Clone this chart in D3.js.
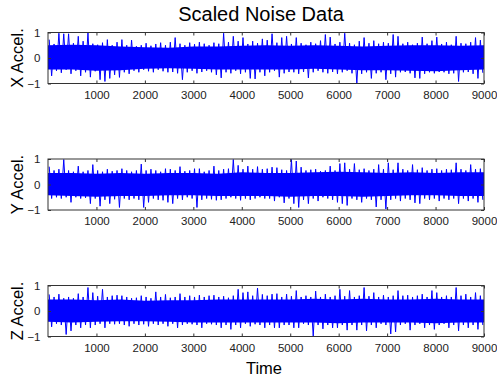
<!DOCTYPE html>
<html>
<head>
<meta charset="utf-8">
<script src="https://cdn.jsdelivr.net/npm/d3@7"></script>
<style>
body{margin:0;background:#fff;}
svg{display:block;font-family:"Liberation Sans",Arial,sans-serif;}
</style>
</head>
<body>
<div id="chart"></div>
<script>
// Scaled noise data, read off the picture as per-window extremes
// (one value per 100 samples) plus the dense core band (every 500 samples)

const windowSize = 100;
const xTicks = [1000, 2000, 3000, 4000, 5000, 6000, 7000, 8000, 9000];
const yTicks = [-1, 0, 1];
const panelLabels = ['X Accel.', 'Y Accel.', 'Z Accel.'];
const coreTimes = [0, 500, 1000, 1500, 2000, 2500, 3000, 3500, 4000, 4500, 5000, 5500, 6000, 6500, 7000, 7500, 8000, 8500, 9000];

// X
const xHigh = [0.72,0.55,0.97,0.95,0.95,0.58,0.85,0.66,0.98,0.56,0.52,0.6,0.72,0.5,0.62,0.72,0.5,0.7,0.46,0.5,0.58,0.48,0.55,0.6,0.5,0.62,0.8,0.56,0.5,0.6,0.54,0.62,0.56,0.5,0.6,0.56,0.97,0.62,0.85,0.66,0.8,0.55,0.66,0.58,0.75,
    0.7,0.95,0.6,0.8,0.85,0.55,0.8,0.58,0.52,0.62,0.56,0.68,0.92,0.82,0.55,0.62,0.97,0.58,0.52,0.66,0.8,0.58,0.68,0.56,0.62,0.58,0.92,0.85,0.56,0.62,0.52,0.58,0.82,0.56,0.68,0.82,0.55,0.62,0.52,0.85,0.58,0.56,0.62,0.8,0.7];
const xLow = [-0.7,-0.5,-0.58,-0.46,-0.62,-0.5,-0.7,-0.56,-0.75,-0.52,-0.85,-0.92,-0.8,-0.66,-0.76,-0.56,-0.62,-0.5,-0.56,-0.46,-0.52,-0.56,-0.46,-0.52,-0.56,-0.55,-0.6,-0.85,-0.56,-0.5,-0.6,-0.55,-0.5,-0.56,-0.66,-0.78,-0.56,-0.6,-0.5,-0.62,-0.56,-0.8,-0.82,-0.56,-0.7,
    -0.56,-0.5,-0.75,-0.6,-0.55,-0.56,-0.62,-0.55,-0.78,-0.56,-0.5,-0.56,-0.6,-0.55,-0.62,-0.56,-0.5,-0.6,-1.0,-0.62,-0.56,-0.8,-0.6,-0.56,-0.85,-0.62,-0.75,-0.56,-0.55,-0.6,-0.78,-0.8,-0.62,-0.56,-0.6,-0.55,-0.56,-0.62,-0.6,-0.92,-0.56,-0.55,-0.62,-0.8,-0.58];
const xCoreHigh = [0.5,0.52,0.5,0.45,0.42,0.4,0.45,0.45,0.48,0.5,0.48,0.5,0.48,0.45,0.48,0.5,0.5,0.48,0.5];
const xCoreLow = [-0.45,-0.45,-0.5,-0.48,-0.42,-0.4,-0.42,-0.45,-0.45,-0.45,-0.45,-0.42,-0.45,-0.48,-0.48,-0.5,-0.52,-0.48,-0.45];

// Y
const yHigh = [0.7,0.55,0.6,0.98,0.55,0.5,0.72,0.5,0.55,0.78,0.55,0.5,0.6,0.52,0.55,0.62,0.55,0.5,0.55,0.8,0.55,0.6,0.55,0.5,0.62,0.6,0.55,0.7,0.52,0.55,0.62,0.62,0.5,0.55,0.72,0.55,0.6,0.62,0.98,0.75,0.6,0.72,0.6,0.7,0.6,
    0.62,0.68,0.66,0.58,0.55,0.98,0.92,0.68,0.55,0.58,0.6,0.52,0.55,0.72,0.55,0.82,0.85,0.6,0.82,0.58,0.62,0.55,0.6,0.78,0.6,0.85,0.58,0.85,0.6,0.55,0.78,0.58,0.66,0.55,0.6,0.62,0.55,0.6,0.58,0.85,0.6,0.55,0.78,0.6,0.62];
const yLow = [-0.55,-0.5,-0.55,-0.5,-0.7,-0.5,-0.55,-0.52,-0.75,-0.55,-0.85,-0.6,-0.75,-0.58,-0.9,-0.55,-0.6,-0.55,-0.6,-0.9,-0.7,-0.55,-0.6,-0.62,-0.7,-0.75,-0.55,-0.6,-0.5,-0.55,-0.9,-0.6,-0.55,-0.58,-0.62,-0.6,-0.55,-0.5,-0.55,-0.62,-0.55,-0.6,-0.55,-0.5,-0.55,
    -0.55,-0.65,-0.5,-0.72,-0.55,-0.75,-0.9,-0.6,-0.75,-0.55,-0.65,-0.5,-0.55,-0.6,-0.7,-0.75,-0.82,-0.55,-0.6,-0.7,-0.55,-0.6,-0.88,-0.6,-0.96,-0.6,-0.55,-0.65,-0.55,-0.6,-0.72,-0.75,-0.55,-0.6,-0.55,-0.65,-0.55,-0.6,-0.55,-0.75,-0.55,-0.65,-0.55,-0.7,-0.6];
const yCoreHigh = [0.45,0.45,0.42,0.45,0.42,0.45,0.45,0.42,0.48,0.45,0.45,0.48,0.5,0.48,0.45,0.48,0.45,0.48,0.48];
const yCoreLow = [-0.42,-0.45,-0.48,-0.45,-0.45,-0.42,-0.42,-0.45,-0.45,-0.45,-0.48,-0.45,-0.45,-0.48,-0.45,-0.42,-0.42,-0.45,-0.45];

// Z
const zHigh = [0.65,0.55,0.66,0.5,0.55,0.5,0.68,0.55,0.92,0.72,0.58,0.85,0.55,0.6,0.62,0.6,0.55,0.5,0.52,0.6,0.55,0.5,0.75,0.55,0.65,0.52,0.55,0.68,0.55,0.6,0.55,0.62,0.55,0.6,0.62,0.55,0.58,0.52,0.6,0.85,0.72,0.75,0.6,0.9,0.65,
    0.6,0.66,0.68,0.55,0.66,0.58,0.8,0.55,0.6,0.55,0.78,0.55,0.66,0.55,0.6,0.85,0.58,0.8,0.55,0.6,0.92,0.58,0.72,0.55,0.62,0.55,0.6,0.8,0.6,0.62,0.55,0.6,0.66,0.55,0.8,0.72,0.55,0.6,0.55,0.92,0.6,0.66,0.55,0.72,0.6];
const zLow = [-0.62,-0.5,-0.55,-0.92,-0.78,-0.55,-0.66,-0.55,-0.66,-0.55,-0.5,-0.66,-0.5,-0.52,-0.5,-0.55,-0.6,-0.5,-0.55,-0.52,-0.6,-0.5,-0.55,-0.5,-0.6,-0.5,-0.66,-0.55,-0.5,-0.52,-0.55,-0.66,-0.5,-0.52,-0.55,-0.66,-0.55,-0.72,-0.55,-0.66,-0.5,-0.6,-0.52,-0.55,-0.66,
    -0.55,-0.66,-0.66,-0.55,-0.55,-0.66,-0.66,-0.5,-0.55,-0.98,-0.55,-0.7,-0.55,-0.66,-0.66,-0.55,-0.75,-0.55,-0.75,-0.55,-0.78,-0.55,-0.66,-0.5,-0.55,-0.9,-0.82,-0.55,-0.5,-0.75,-0.55,-0.5,-0.66,-0.55,-0.72,-0.55,-0.5,-0.66,-0.55,-0.78,-0.55,-0.66,-0.55,-0.72,-0.55];
const zCoreHigh = [0.45,0.45,0.42,0.45,0.4,0.42,0.42,0.45,0.45,0.45,0.45,0.48,0.45,0.48,0.45,0.45,0.48,0.45,0.45];
const zCoreLow = [-0.42,-0.45,-0.42,-0.4,-0.4,-0.42,-0.45,-0.45,-0.45,-0.45,-0.45,-0.45,-0.48,-0.45,-0.45,-0.45,-0.48,-0.45,-0.45];

const panels = [
    {label: panelLabels[0], high: xHigh, low: xLow, coreHigh: xCoreHigh, coreLow: xCoreLow},
    {label: panelLabels[1], high: yHigh, low: yLow, coreHigh: yCoreHigh, coreLow: yCoreLow},
    {label: panelLabels[2], high: zHigh, low: zLow, coreHigh: zCoreHigh, coreLow: zCoreLow}
];

// Layout
const width = 497, height = 379;
const left = 48, right = 484;
const panelTops = [32.5, 159, 285.5], panelHeight = 51;
const blue = '#0000ff';

const svg = d3.select('#chart').append('svg')
    .attr('width', width).attr('height', height);

const x = d3.scaleLinear().domain([0, 9000]).range([left, right]);

svg.append('text')
    .attr('x', 261).attr('y', 21)
    .attr('text-anchor', 'middle')
    .attr('font-size', 20)
    .attr('fill', '#000')
    .text('Scaled Noise Data');

panels.forEach((p, i) => {
    let top = panelTops[i], bottom = top + panelHeight;
    let y = d3.scaleLinear().domain([-1, 1]).range([bottom, top]);
    let g = svg.append('g');

    g.append('clipPath').attr('id', `clip${i}`)
        .append('rect').attr('x', left).attr('y', top)
        .attr('width', right - left).attr('height', panelHeight);
    let plot = g.append('g').attr('clip-path', `url(#clip${i})`);

    // dense core band
    let core = coreTimes.map((t, j) => ({t, hi: p.coreHigh[j], lo: p.coreLow[j]}));
    plot.append('path')
        .datum(core)
        .attr('fill', blue)
        .attr('d', d3.area().x(d => x(d.t)).y0(d => y(d.lo)).y1(d => y(d.hi)));

    // trace: zig-zag through each window's high then low
    let trace = [];
    p.high.forEach((v, k) => {
        trace.push({t: k * windowSize + 25, v});
        trace.push({t: k * windowSize + 75, v: p.low[k]});
    });
    plot.append('path')
        .datum(trace)
        .attr('fill', 'none')
        .attr('stroke', blue)
        .attr('stroke-width', 1)
        .attr('stroke-linejoin', 'round')
        .attr('d', d3.line().x(d => x(d.t)).y(d => y(d.v)));

    // axes: inside ticks on all four sides
    let tidy = a => a.call(s => s.select('.domain').remove())
        .call(s => s.selectAll('.tick line').attr('stroke', '#333'))
        .call(s => s.selectAll('.tick text').attr('fill', '#222').attr('font-size', 11.5).attr('font-family', null));

    g.append('g').attr('transform', `translate(0,${bottom})`)
        .call(d3.axisBottom(x).tickValues(xTicks).tickSize(-3).tickPadding(7).tickFormat(d3.format('d'))).call(tidy);
    g.append('g').attr('transform', `translate(0,${top})`)
        .call(d3.axisTop(x).tickValues(xTicks).tickSize(-3).tickFormat('')).call(tidy);
    g.append('g').attr('transform', `translate(${left},0)`)
        .call(d3.axisLeft(y).tickValues(yTicks).tickSize(-3).tickPadding(7.5).tickFormat(d3.format('d'))).call(tidy);
    g.append('g').attr('transform', `translate(${right},0)`)
        .call(d3.axisRight(y).tickValues(yTicks).tickSize(-3).tickFormat('')).call(tidy);

    g.append('rect')
        .attr('x', left).attr('y', top)
        .attr('width', right - left).attr('height', panelHeight)
        .attr('fill', 'none').attr('stroke', '#333');

    g.append('text')
        .attr('transform', `translate(22.5,${(top + bottom) / 2}) rotate(-90)`)
        .attr('text-anchor', 'middle')
        .attr('font-size', 16.5)
        .attr('fill', '#000')
        .text(p.label);
});

svg.append('text')
    .attr('x', 264).attr('y', 374)
    .attr('text-anchor', 'middle')
    .attr('font-size', 16.5)
    .attr('fill', '#000')
    .text('Time');
</script>
</body>
</html>
